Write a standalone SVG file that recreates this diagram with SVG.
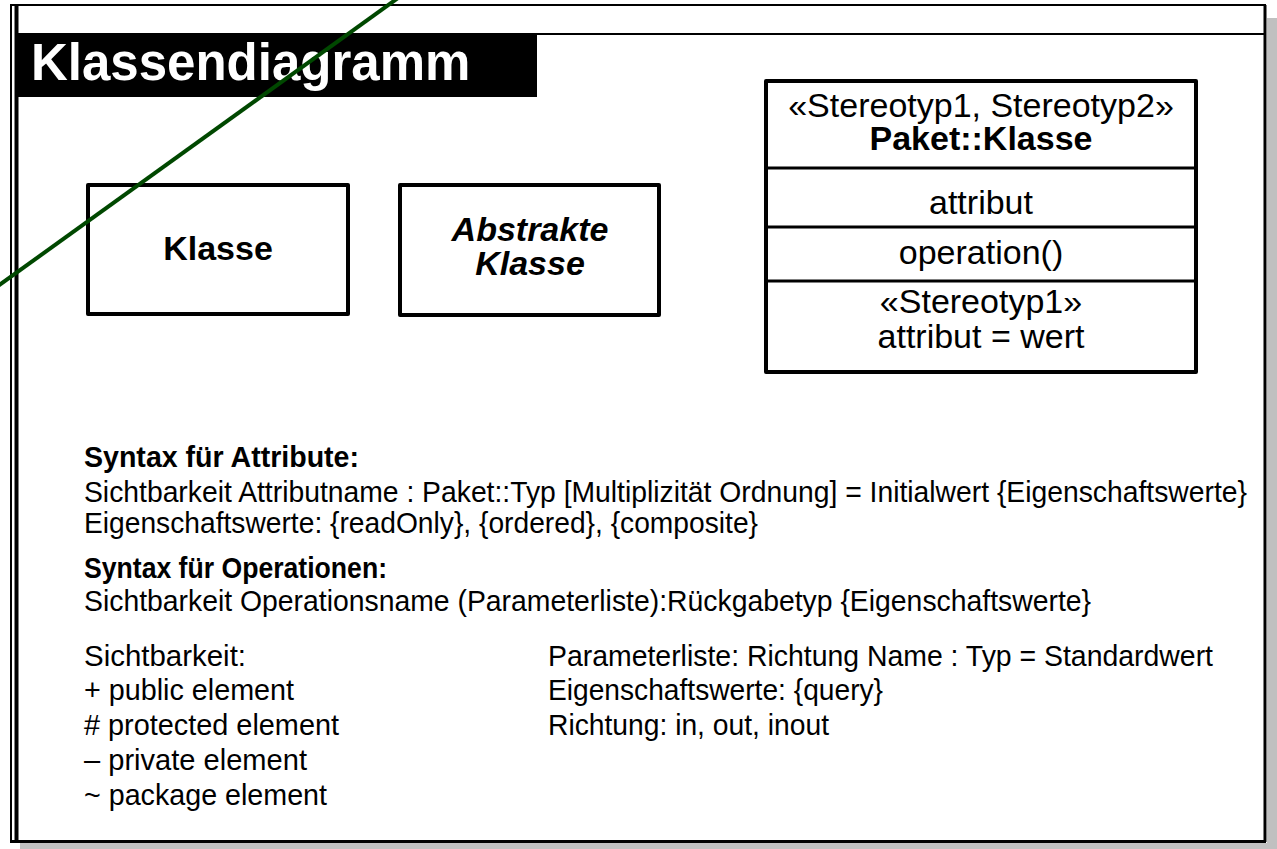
<svg xmlns="http://www.w3.org/2000/svg" width="1277" height="849" viewBox="0 0 1277 849">
<style>
text{font-family:"Liberation Sans",Arial,sans-serif;fill:#000}
.box{fill:#fff;stroke:#000;stroke-width:4;stroke-linejoin:round}
.div{stroke:#000;stroke-width:3}
.lbl{font-size:34px;text-anchor:middle}
.b{font-weight:bold}
.txt{font-size:30px}
</style>
<rect width="1277" height="849" fill="#fff"/>
<g id="frame">
<rect x="1267" y="18" width="10" height="831" fill="#c0c0c0"/>
<rect x="20" y="843" width="1257" height="6" fill="#c0c0c0"/>
<line x1="10" y1="5" x2="1266" y2="5" stroke="#000" stroke-width="2"/>
<line x1="1265" y1="5" x2="1265" y2="842" stroke="#000" stroke-width="3"/>
<line x1="10" y1="841.5" x2="1266" y2="841.5" stroke="#000" stroke-width="3"/>
<line x1="11" y1="5" x2="11" y2="843" stroke="#000" stroke-width="2"/>
<line x1="16.5" y1="5" x2="16.5" y2="843" stroke="#000" stroke-width="4"/>
<line x1="537" y1="34" x2="1266" y2="34" stroke="#000" stroke-width="2"/>
<rect x="16" y="33" width="521" height="64" fill="#000"/>
<text x="31" y="80" font-size="51" font-weight="bold" style="fill:#fff">Klassendiagramm</text>
</g>
<g id="klasse">
<rect class="box" x="88" y="185" width="260" height="129"/>
<text class="lbl b" x="218" y="260">Klasse</text>
</g>
<g id="abstrakte-klasse">
<rect class="box" x="400" y="185" width="259" height="130"/>
<text class="lbl b" x="530" y="241" font-style="italic">Abstrakte</text>
<text class="lbl b" x="530" y="275" font-style="italic">Klasse</text>
</g>
<g id="paket-klasse">
<rect class="box" x="766" y="81" width="430" height="291"/>
<line class="div" x1="766" y1="168" x2="1196" y2="168"/>
<line class="div" x1="766" y1="227" x2="1196" y2="227"/>
<line class="div" x1="766" y1="281" x2="1196" y2="281"/>
<text class="lbl" x="981" y="117">«Stereotyp1, Stereotyp2»</text>
<text class="lbl b" x="981" y="150">Paket::Klasse</text>
<text class="lbl" x="981" y="214">attribut</text>
<text class="lbl" x="981" y="264">operation()</text>
<text class="lbl" x="981" y="313">«Stereotyp1»</text>
<text class="lbl" x="981" y="348">attribut = wert</text>
</g>
<g id="syntax">
<text class="txt b" x="84" y="467" textLength="275" lengthAdjust="spacingAndGlyphs">Syntax für Attribute:</text>
<text class="txt" x="84" y="502" textLength="1163" lengthAdjust="spacingAndGlyphs">Sichtbarkeit Attributname : Paket::Typ [Multiplizität Ordnung] = Initialwert {Eigenschaftswerte}</text>
<text class="txt" x="84" y="533" textLength="674" lengthAdjust="spacingAndGlyphs">Eigenschaftswerte: {readOnly}, {ordered}, {composite}</text>
<text class="txt b" x="84" y="578" textLength="303" lengthAdjust="spacingAndGlyphs">Syntax für Operationen:</text>
<text class="txt" x="84" y="611" textLength="1007" lengthAdjust="spacingAndGlyphs">Sichtbarkeit Operationsname (Parameterliste):Rückgabetyp {Eigenschaftswerte}</text>
<text class="txt" x="84" y="666" textLength="162" lengthAdjust="spacingAndGlyphs">Sichtbarkeit:</text>
<text class="txt" x="84" y="700" textLength="210" lengthAdjust="spacingAndGlyphs">+ public element</text>
<text class="txt" x="84" y="735" textLength="255" lengthAdjust="spacingAndGlyphs"># protected element</text>
<text class="txt" x="84" y="770" textLength="223" lengthAdjust="spacingAndGlyphs">– private element</text>
<text class="txt" x="84" y="805" textLength="243" lengthAdjust="spacingAndGlyphs">~ package element</text>
<text class="txt" x="548" y="666" textLength="665" lengthAdjust="spacingAndGlyphs">Parameterliste: Richtung Name : Typ = Standardwert</text>
<text class="txt" x="548" y="700" textLength="335" lengthAdjust="spacingAndGlyphs">Eigenschaftswerte: {query}</text>
<text class="txt" x="548" y="735" textLength="281" lengthAdjust="spacingAndGlyphs">Richtung: in, out, inout</text>
</g>
<g id="connectors">
<line x1="-2" y1="286" x2="398" y2="-2" stroke="#004800" stroke-width="4"/>
</g>
</svg>
